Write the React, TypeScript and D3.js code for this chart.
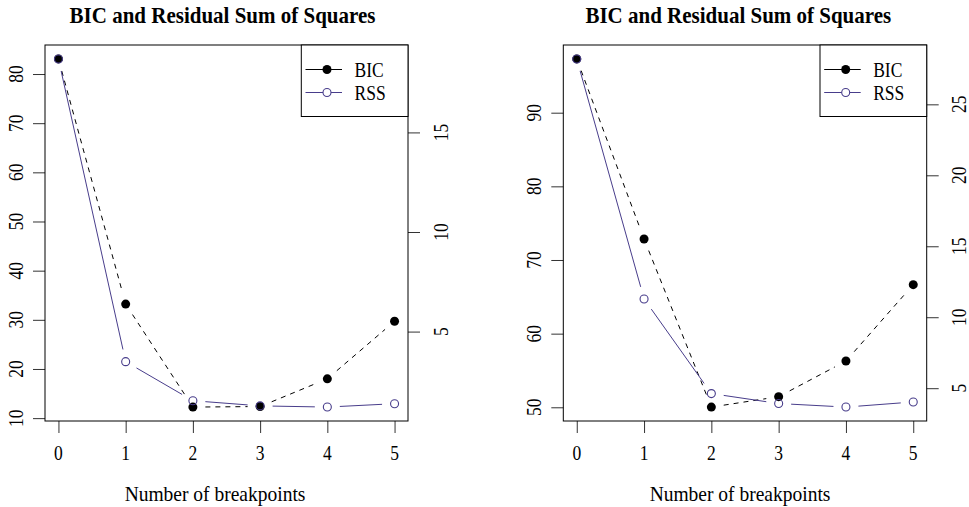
import React, { useEffect, useRef } from 'react';
import * as d3 from 'd3';

// number of breakpoints on the x axis
const breakpoints = [0, 1, 2, 3, 4, 5];

// left panel
const bicLeft = [83.07, 33.2, 12.25, 12.36, 18.0, 29.7];
const rssLeft = [18.69, 3.49, 1.53, 1.27, 1.21, 1.38];
const bicTicksLeft = [10, 20, 30, 40, 50, 60, 70, 80];
const rssTicksLeft = [5, 10, 15];

// right panel
const bicRight = [97.3, 72.85, 50.03, 51.44, 56.28, 66.65];
const rssRight = [28.2, 11.29, 4.62, 3.92, 3.67, 4.03];
const bicTicksRight = [50, 60, 70, 80, 90];
const rssTicksRight = [5, 10, 15, 20, 25];

const legendLabels = ['BIC', 'RSS'];
const title = 'BIC and Residual Sum of Squares';
const xLabel = 'Number of breakpoints';

const RSS_COLOR = '#483D8B';
const FONT = '"Liberation Serif", "Times New Roman", serif';
const TALL = 1.16; // reference glyphs are taller than Liberation Serif

// R style 4% padding on the data range
const padded = (vals: number[]) => {
  const [lo, hi] = d3.extent(vals) as [number, number];
  const p = (hi - lo) * 0.04;
  return [lo - p, hi + p];
};

const App = () => {
  const ref = useRef<SVGSVGElement>(null);

  useEffect(() => {
    const svg = d3.select(ref.current);
    svg.selectAll('*').remove();

    const top = 45;
    const bottom = 421;
    const gap = 12.5; // type="b" gap around points

    const panels = [
      { left: 45, right: 408, bic: bicLeft, rss: rssLeft, bt: bicTicksLeft, rt: rssTicksLeft, titleX: 222.5, labX: 215 },
      { left: 563.3, right: 926.7, bic: bicRight, rss: rssRight, bt: bicTicksRight, rt: rssTicksRight, titleX: 738.3, labX: 740 },
    ];

    panels.forEach(p => {
      const g = svg.append('g');

      const x = d3.scaleLinear().domain([-0.2, 5.2]).range([p.left, p.right]);
      const yB = d3.scaleLinear().domain(padded(p.bic)).range([bottom, top]);
      const yR = d3.scaleLinear().domain(padded(p.rss)).range([bottom, top]);

      // title
      g.append('text')
        .attr('transform', `translate(${p.titleX},23) scale(1,1.08)`)
        .attr('text-anchor', 'middle')
        .attr('font-weight', 'bold')
        .attr('font-size', 21)
        .text(title);

      // x axis label
      g.append('text')
        .attr('transform', `translate(${p.labX},501) scale(1,1.03)`)
        .attr('text-anchor', 'middle')
        .attr('font-size', 19.5)
        .text(xLabel);

      // axes
      const xa = g.append('g')
        .attr('transform', `translate(0,${bottom})`)
        .call(d3.axisBottom(x).tickValues(breakpoints).tickSize(12).tickFormat(() => ''));
      const la = g.append('g')
        .attr('transform', `translate(${p.left},0)`)
        .call(d3.axisLeft(yB).tickValues(p.bt).tickSize(12).tickFormat(() => ''));
      const ra = g.append('g')
        .attr('transform', `translate(${p.right},0)`)
        .call(d3.axisRight(yR).tickValues(p.rt).tickSize(12).tickFormat(() => ''));
      [xa, la, ra].forEach(a => {
        a.select('.domain').remove();
        a.selectAll('line').attr('stroke', '#333');
      });

      g.selectAll(null)
        .data(breakpoints)
        .enter()
        .append('text')
        .attr('transform', d => `translate(${x(d)},459.5) scale(1,${TALL})`)
        .attr('text-anchor', 'middle')
        .attr('font-size', 17.5)
        .text(d => d);

      g.selectAll(null)
        .data(p.bt)
        .enter()
        .append('text')
        .attr('transform', d => `translate(${p.left - 22},${yB(d)}) rotate(-90) scale(1,${TALL})`)
        .attr('text-anchor', 'middle')
        .attr('font-size', 17.5)
        .text(d => d);

      g.selectAll(null)
        .data(p.rt)
        .enter()
        .append('text')
        .attr('transform', d => `translate(${p.right + 39.5},${yR(d)}) rotate(-90) scale(1,${TALL})`)
        .attr('text-anchor', 'middle')
        .attr('font-size', 17.5)
        .text(d => d);

      // lines with gaps around the points
      const drawLine = (vals: number[], y: d3.ScaleLinear<number, number>, color: string, dash: string | null) => {
        for (let i = 0; i < vals.length - 1; i++) {
          const x0 = x(breakpoints[i]);
          const y0 = y(vals[i]);
          const x1 = x(breakpoints[i + 1]);
          const y1 = y(vals[i + 1]);
          const len = Math.hypot(x1 - x0, y1 - y0);
          if (len <= 2 * gap) continue;
          const ux = (x1 - x0) / len;
          const uy = (y1 - y0) / len;
          g.append('line')
            .attr('x1', x0 + ux * gap)
            .attr('y1', y0 + uy * gap)
            .attr('x2', x1 - ux * gap)
            .attr('y2', y1 - uy * gap)
            .attr('stroke', color)
            .attr('stroke-width', 1)
            .attr('stroke-dasharray', dash);
        }
      };
      drawLine(p.bic, yB, '#000', '5,5');
      drawLine(p.rss, yR, RSS_COLOR, null);

      g.selectAll(null)
        .data(p.bic)
        .enter()
        .append('circle')
        .attr('cx', (d, i) => x(breakpoints[i]))
        .attr('cy', d => yB(d))
        .attr('r', 4.5)
        .attr('fill', '#000');

      g.selectAll(null)
        .data(p.rss)
        .enter()
        .append('circle')
        .attr('cx', (d, i) => x(breakpoints[i]))
        .attr('cy', d => yR(d))
        .attr('r', 4)
        .attr('fill', 'none')
        .attr('stroke', RSS_COLOR)
        .attr('stroke-width', 1.1);

      // plot box
      g.append('rect')
        .attr('x', p.left)
        .attr('y', top)
        .attr('width', p.right - p.left)
        .attr('height', bottom - top)
        .attr('fill', 'none')
        .attr('stroke', '#000');

      // legend
      const lg = g.append('g').attr('transform', `translate(${p.right},${top})`);
      lg.append('rect')
        .attr('x', -106.7)
        .attr('y', 0)
        .attr('width', 106.7)
        .attr('height', 71.5)
        .attr('fill', '#fff')
        .attr('stroke', '#000');
      legendLabels.forEach((lab, i) => {
        const cy = 24.5 + i * 23;
        const color = i === 0 ? '#000' : RSS_COLOR;
        lg.append('line')
          .attr('x1', -102.5)
          .attr('x2', -66)
          .attr('y1', cy)
          .attr('y2', cy)
          .attr('stroke', color);
        lg.append('circle')
          .attr('cx', -81)
          .attr('cy', cy)
          .attr('r', i === 0 ? 4.5 : 4)
          .attr('fill', i === 0 ? '#000' : '#fff')
          .attr('stroke', i === 0 ? 'none' : RSS_COLOR)
          .attr('stroke-width', 1.1);
        lg.append('text')
          .attr('transform', `translate(-53.5,${cy + 7}) scale(1,${TALL})`)
          .attr('font-size', 17.5)
          .text(lab);
      });
    });
  }, []);

  return (
    <svg
      ref={ref}
      width={969}
      height={507}
      style={{ position: 'absolute', left: 0, top: 0, background: '#fff', fontFamily: FONT }}
    />
  );
};

export default App;
